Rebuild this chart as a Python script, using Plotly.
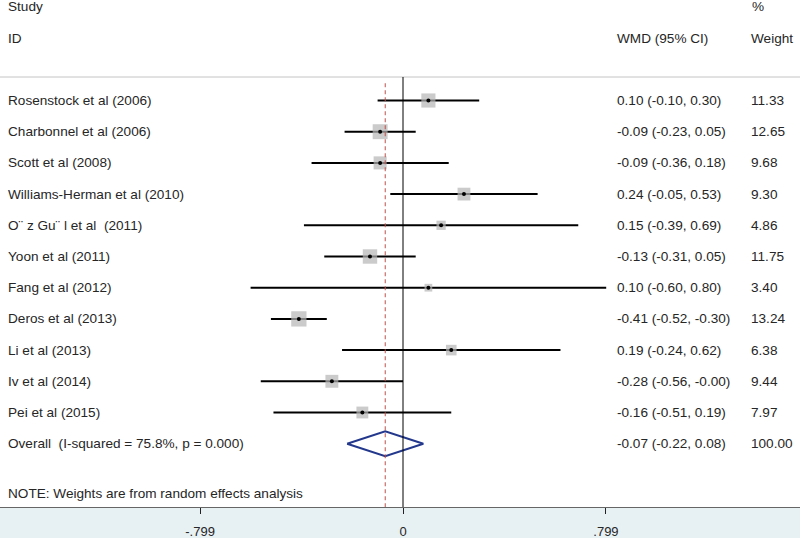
import plotly.graph_objects as go

studies = ["Rosenstock et al (2006)", "Charbonnel et al (2006)", "Scott et al (2008)",
           "Williams-Herman et al (2010)", "O¨ z Gu¨ l et al  (2011)", "Yoon et al (2011)",
           "Fang et al (2012)", "Deros et al (2013)", "Li et al (2013)", "Iv et al (2014)",
           "Pei et al (2015)"]
est = [0.10, -0.09, -0.09, 0.24, 0.15, -0.13, 0.10, -0.41, 0.19, -0.28, -0.16]
lo = [-0.10, -0.23, -0.36, -0.05, -0.39, -0.31, -0.60, -0.52, -0.24, -0.56, -0.51]
hi = [0.30, 0.05, 0.18, 0.53, 0.69, 0.05, 0.80, -0.30, 0.62, -0.0, 0.19]
weights = [11.33, 12.65, 9.68, 9.30, 4.86, 11.75, 3.40, 13.24, 6.38, 9.44, 7.97]

overall_label = "Overall  (I-squared = 75.8%, p = 0.000)"
overall_est, overall_lo, overall_hi, overall_w = -0.07, -0.22, 0.08, 100.00
note = "NOTE: Weights are from random effects analysis"
tick_vals = [-0.799, 0, 0.799]
tick_text = ["-.799", "0", ".799"]

TXT = "#262626"
FONT = "Liberation Sans, Arial, sans-serif"
FS = 13.6
n = len(studies)
rows = list(range(n))
ov_row = n

fig = go.Figure()

# CI lines
cx, cy = [], []
for i in rows:
    cx += [lo[i], hi[i], None]
    cy += [i, i, None]
fig.add_trace(go.Scatter(x=cx, y=cy, mode="lines", line=dict(color="black", width=2),
                         hoverinfo="skip", showlegend=False))

# weight squares
fig.add_trace(go.Scatter(x=est, y=rows, mode="markers",
                         marker=dict(symbol="square", color="#b5b5b5",
                                     size=[4.2 * w ** 0.5 for w in weights],
                                     line=dict(width=0)),
                         showlegend=False))
# point estimates
fig.add_trace(go.Scatter(x=est, y=rows, mode="markers",
                         marker=dict(symbol="circle", color="black", size=4),
                         showlegend=False))

# diamond
dh = 0.4
fig.add_trace(go.Scatter(x=[overall_lo, overall_est, overall_hi, overall_est, overall_lo],
                         y=[ov_row, ov_row - dh, ov_row, ov_row + dh, ov_row],
                         mode="lines", line=dict(color="#23388c", width=2),
                         showlegend=False))

ytop_line = (77 - 100.5) / 31.2
ybot = (507 - 100.5) / 31.2
ytop = (0 - 100.5) / 31.2

shapes = [
    dict(type="line", xref="paper", yref="y", x0=0, x1=1, y0=ytop_line, y1=ytop_line,
         line=dict(color="#c4c4c4", width=1)),
    dict(type="line", xref="x", yref="y", x0=0, x1=0, y0=ytop_line, y1=ybot,
         line=dict(color="black", width=1)),
    dict(type="line", xref="x", yref="y", x0=overall_est, x1=overall_est, y0=ytop_line + 0.2, y1=ybot,
         line=dict(color="#c0504d", width=1, dash="4px,3px")),
]

ann = []
def t(xp, y, s):
    ann.append(dict(x=xp, y=y, xref="paper", yref="y", text=s, showarrow=False,
                    xanchor="left", yanchor="middle", font=dict(size=FS, color=TXT, family=FONT)))

hy1 = (6 - 100.5) / 31.2
hy2 = (38 - 100.5) / 31.2
t(6 / 800, hy1, "Study")
t(6 / 800, hy2, "ID")
t(750 / 800, hy1, "%")
t(615 / 800, hy2, "WMD (95% CI)")
t(749 / 800, hy2, "Weight")
for i in rows:
    t(6 / 800, i, studies[i])
    t(615 / 800, i, f"{est[i]:.2f} ({lo[i]:.2f}, {hi[i]:.2f})")
    t(749 / 800, i, f"{weights[i]:.2f}")
t(6 / 800, ov_row, overall_label)
t(615 / 800, ov_row, f"{overall_est:.2f} ({overall_lo:.2f}, {overall_hi:.2f})")
t(749 / 800, ov_row, f"{overall_w:.2f}")
t(6 / 800, (493 - 100.5) / 31.2, note)

fig.update_layout(
    width=800, height=538,
    margin=dict(l=0, r=0, t=0, b=31, pad=0),
    paper_bgcolor="#e7f0f3", plot_bgcolor="white",
    shapes=shapes, annotations=ann, showlegend=False,
    xaxis=dict(range=[-403 / 254, 397 / 254], tickvals=tick_vals, ticktext=tick_text,
               ticks="outside", ticklen=6, tickcolor="#222", showgrid=False, zeroline=False,
               showline=True, linecolor="#666", linewidth=1, ticklabelstandoff=6,
               tickfont=dict(size=13, color=TXT, family=FONT), fixedrange=True),
    yaxis=dict(range=[ybot, ytop], showticklabels=False, showgrid=False, zeroline=False,
               ticks="", visible=False),
)

fig.write_html("out.html", config={"displayModeBar": False},
               post_script="document.body.style.margin='0';document.body.style.overflow='hidden';")
